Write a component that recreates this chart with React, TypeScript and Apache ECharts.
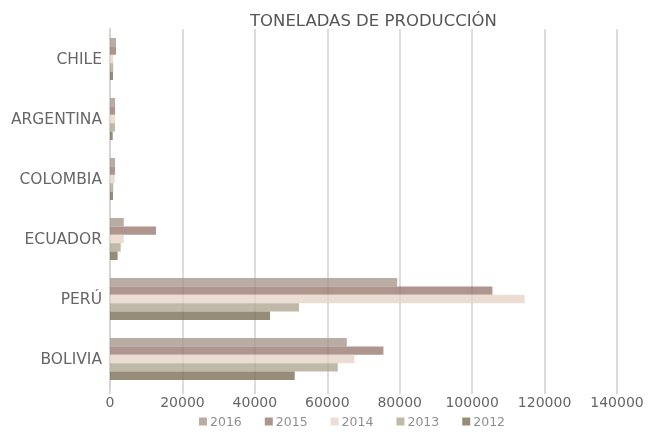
import React, { useEffect, useRef } from "react";
import * as echarts from "echarts";

const categories = ["BOLIVIA", "PERÚ", "ECUADOR", "COLOMBIA", "ARGENTINA", "CHILE"];
const years = ["2016", "2015", "2014", "2013", "2012"];
const v2016 = [65400, 79300, 3800, 1400, 1400, 1650];
const v2015 = [75500, 105600, 12700, 1400, 1400, 1650];
const v2014 = [67500, 114500, 3800, 1300, 1400, 900];
const v2013 = [62900, 52200, 2950, 900, 1400, 900];
const v2012 = [51000, 44200, 2100, 830, 750, 830];
const xTicks = [0, 20000, 40000, 60000, 80000, 100000, 120000, 140000];
const colors: Record<string, string> = {
  "2016": "#a8988c",
  "2015": "#9a7b70",
  "2014": "#e6d5c6",
  "2013": "#b0a794",
  "2012": "#7c7058",
};

const FONT = "DejaVu Sans";

export default function App() {
  const ref = useRef<HTMLDivElement>(null);
  useEffect(() => {
    if (!ref.current) return;
    const chart = echarts.init(ref.current, undefined, { renderer: "svg" });
    const seriesData: [string, number[]][] = [
      ["2016", v2016],
      ["2015", v2015],
      ["2014", v2014],
      ["2013", v2013],
      ["2012", v2012],
    ];
    chart.setOption({
      animation: false,
      title: {
        text: "TONELADAS DE PRODUCCIÓN",
        left: 245,
        top: 7,
        textStyle: { fontFamily: FONT, fontSize: 16.5, fontWeight: "normal", color: "#555" },
      },
      legend: {
        data: years,
        bottom: 3,
        left: 194,
        icon: "rect",
        itemWidth: 8,
        itemHeight: 8,
        itemGap: 23,
        textStyle: { fontFamily: FONT, fontSize: 12.5, color: "#8f8f8f", padding: [0, 0, 0, -2] },
      },
      grid: { left: 110, right: 35, top: 29, bottom: 47, containLabel: false },
      xAxis: {
        type: "value",
        min: xTicks[0],
        max: xTicks[xTicks.length - 1],
        interval: 20000,
        axisLine: { show: false },
        axisTick: { show: true, length: 5, lineStyle: { color: "#dcdcdc", width: 2 } },
        splitLine: { show: true, lineStyle: { color: "#dcdcdc", width: 2 } },
        axisLabel: {
          fontFamily: FONT,
          fontSize: 14,
          color: "#666",
          margin: 6,
          formatter: (v: number) => String(v),
        },
      },
      yAxis: {
        type: "category",
        data: categories,
        axisLine: { show: true, lineStyle: { color: "#d4d4d4", width: 2 } },
        axisTick: { show: false },
        axisLabel: { fontFamily: FONT, fontSize: 15.5, color: "#666", margin: 8 },
      },
      series: seriesData.map(([name, data]) => ({
        name,
        type: "bar",
        data,
        barGap: "0%",
        barCategoryGap: "30%",
        itemStyle: { color: colors[name], opacity: 0.8 },
        z: 1,
      })),
    });
    return () => chart.dispose();
  }, []);
  return (
    <div
      ref={ref}
      style={{ position: "fixed", left: 0, top: 0, width: 652, height: 436 }}
    />
  );
}
